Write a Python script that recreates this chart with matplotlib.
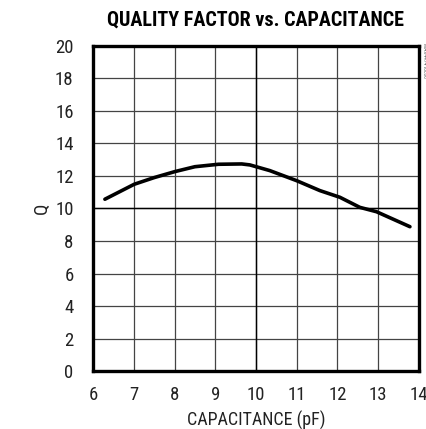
import matplotlib
matplotlib.use("Agg")
import matplotlib.pyplot as plt

body_font = ['Roboto Condensed', 'Archivo Narrow', 'Sofia Sans Condensed', 'DejaVu Sans']
title_font = ['Roboto Condensed', 'Saira SemiCondensed', 'DejaVu Sans']
plt.rcParams['font.family'] = body_font

cap_pf = [6.29, 7.01, 7.5, 8.01, 8.5, 9.08, 9.65, 9.85, 10.34, 11.0, 11.57, 12.06, 12.55, 12.96, 13.78]
q_vals = [10.57, 11.49, 11.9, 12.27, 12.57, 12.72, 12.74, 12.68, 12.33, 11.71, 11.1, 10.69, 10.07, 9.8, 8.88]

x_ticks = list(range(6, 15))
y_ticks = list(range(0, 21, 2))

fig = plt.figure(figsize=(4.27, 4.29), dpi=100)
ax = fig.add_axes([0.218, 0.135, 0.763, 0.758])

ax.plot(cap_pf, q_vals, color='black', lw=2.6, solid_capstyle='round', zorder=3)

ax.set_xlim(6, 14)
ax.set_ylim(0, 20)
ax.set_xticks(x_ticks)
ax.set_yticks(y_ticks)
ax.grid(True, color='#444444', lw=0.9)
ax.axvline(10, color='black', lw=1.0, zorder=2)
ax.axhline(10, color='black', lw=1.0, zorder=2)

ax.tick_params(length=0, labelsize=13.5, labelcolor='#222222')
ax.tick_params(axis='x', pad=11)
ax.tick_params(axis='y', pad=14)
for s in ax.spines.values():
    s.set_linewidth(2.4)

ax.set_xlabel("CAPACITANCE (pF)", fontsize=13, labelpad=5, color='#222222')
ax.set_ylabel("Q", fontsize=13.5, labelpad=3, color='#222222')
ax.set_title("QUALITY FACTOR vs. CAPACITANCE", fontsize=14.5, fontweight='black',
             family=title_font, pad=15)

fig.text(0.993, 0.86, "MAX4474 toc06", rotation=270, fontsize=4, color='#666666',
         ha='center', va='center')

fig.savefig("out.png", dpi=100)
